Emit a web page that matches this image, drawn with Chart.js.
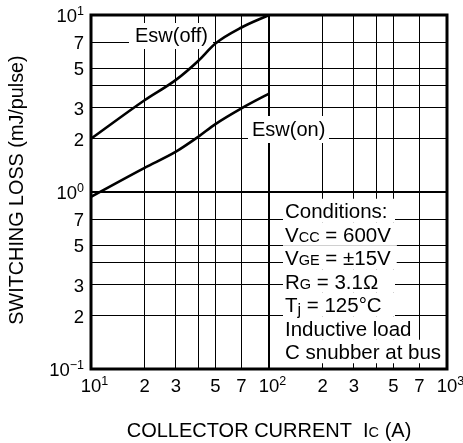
<!DOCTYPE html>
<html>
<head>
<meta charset="utf-8">
<script src="https://cdn.jsdelivr.net/npm/chart.js@4"></script>
<style>
  html, body { margin: 0; padding: 0; background: #fff; }
  #wrap { width: 463px; height: 443px; }
</style>
</head>
<body>
<div id="wrap"><canvas id="lossChart" width="463" height="443"></canvas></div>
<script>
// data
const currentA = [10, 20, 30, 40, 50, 70, 100];
const eswOff = [2.0, 3.3, 4.3, 5.5, 6.9, 8.5, 10];
const eswOn = [0.94, 1.37, 1.69, 2.05, 2.42, 2.97, 3.6];

const xGrid = [10, 20, 30, 40, 50, 70, 100, 200, 300, 400, 500, 700, 1000];
const yGrid = [0.1, 0.2, 0.3, 0.4, 0.5, 0.7, 1, 2, 3, 4, 5, 7, 10];
const xLabels = [[10, '10', '1'], [20, '2'], [30, '3'], [50, '5'], [70, '7'], [100, '10', '2'],
  [200, '2'], [300, '3'], [500, '5'], [700, '7'], [1000, '10', '3']];
const yLabels = [[10, '10', '1'], [7, '7'], [5, '5'], [3, '3'], [2, '2'], [1, '10', '0'],
  [0.7, '7'], [0.5, '5'], [0.3, '3'], [0.2, '2'], [0.1, '10', '\u22121']];

const FONT = '"Liberation Sans", Arial, Helvetica, sans-serif';
const f = (px) => px + 'px ' + FONT;

function pts(ys) { return currentA.map((x, i) => ({ x: x, y: ys[i] })); }

// draw a row of text pieces: [text, size, dy]
function drawRuns(c, runs, x, y) {
  let cx = x;
  runs.forEach(([t, size, dy]) => {
    c.font = f(size);
    c.fillText(t, cx, y + (dy || 0));
    cx += c.measureText(t).width;
  });
  return cx;
}
function runsWidth(c, runs) {
  let w = 0;
  runs.forEach(([t, size]) => { c.font = f(size); w += c.measureText(t).width; });
  return w;
}

const decorPlugin = {
  id: 'decor',
  beforeDatasetsDraw(chart) {
    const c = chart.ctx;
    c.save();
    c.fillStyle = '#fff';
    // label boxes hide the grid
    c.fillRect(129, 23, 84, 26);
    c.fillRect(248, 116, 81, 27);
    c.fillStyle = '#000';
    c.textBaseline = 'middle';
    c.textAlign = 'left';
    c.font = f(20);
    c.fillText('Esw(off)', 135, 36);
    c.fillText('Esw(on)', 252, 130);

    // conditions block
    const big = 20.5, small = 14.5;
    const lines = [
      [['Conditions:', big]],
      [['V', big], ['CC', small], [' = 600V', big]],
      [['V', big], ['GE', small], [' = \u00b115V', big]],
      [['R', big], ['G', small], [' = 3.1\u03a9', big]],
      [['T', big], ['j', 16, 3], [' = 125\u00b0C', big]],
      [['Inductive load', big]],
      [['C snubber at bus', big]]
    ];
    const x0 = 285, y0 = 210.5, step = 23.5;
    c.textBaseline = 'alphabetic';
    lines.forEach((runs, i) => {
      const yc = y0 + i * step;
      const w = runsWidth(c, runs);
      c.fillStyle = '#fff';
      c.fillRect(x0 - 2, yc - step / 2, Math.max(w + 8, 112), step);
    });
    c.fillStyle = '#000';
    lines.forEach((runs, i) => {
      drawRuns(c, runs, x0, y0 + i * step + 7.5);
    });
    c.restore();
  },
  afterDraw(chart) {
    const c = chart.ctx;
    const a = chart.chartArea;
    const xs = chart.scales.x, ys = chart.scales.y;
    c.save();
    c.strokeStyle = '#000';
    c.lineWidth = 3;
    c.strokeRect(a.left, a.top, a.right - a.left, a.bottom - a.top);

    c.fillStyle = '#000';
    c.textBaseline = 'alphabetic';
    // y tick labels, right aligned
    yLabels.forEach(([v, base, exp]) => {
      const py = ys.getPixelForValue(v);
      const runs = exp ? [[base, 18.5], [exp, 12.5, -7]] : [[base, 18.5]];
      const w = runsWidth(c, runs);
      drawRuns(c, runs, 84 - w, py + 7);
    });
    // x tick labels, base centred on the tick
    xLabels.forEach(([v, base, exp]) => {
      const px = xs.getPixelForValue(v);
      c.font = f(18.5);
      const bw = c.measureText(base).width;
      const runs = exp ? [[base, 18.5], [exp, 12.5, -7]] : [[base, 18.5]];
      drawRuns(c, runs, px - bw / 2, 392);
    });

    // axis titles
    const xt = [['COLLECTOR CURRENT  I', 20], ['C', 14.5], [' (A)', 20]];
    const xw = runsWidth(c, xt);
    drawRuns(c, xt, 269 - xw / 2, 437);

    c.translate(23, 190);
    c.rotate(-Math.PI / 2);
    c.font = f(19.8);
    c.textAlign = 'center';
    c.fillText('SWITCHING LOSS (mJ/pulse)', 0, 0);
    c.restore();
  }
};

const gridWidth = (v, major) => (v === major ? 2 : 1);

new Chart(document.getElementById('lossChart'), {
  type: 'line',
  data: {
    datasets: [
      { label: 'Esw(off)', data: pts(eswOff) },
      { label: 'Esw(on)', data: pts(eswOn) }
    ]
  },
  options: {
    responsive: false,
    animation: false,
    devicePixelRatio: 1,
    layout: { padding: { top: 15, right: 16, left: 0, bottom: 0 } },
    elements: {
      line: { borderColor: '#000', borderWidth: 2.6, cubicInterpolationMode: 'monotone', fill: false },
      point: { radius: 0 }
    },
    plugins: { legend: { display: false }, tooltip: { enabled: false } },
    scales: {
      x: {
        type: 'logarithmic', min: 10, max: 1000,
        afterBuildTicks: (s) => { s.ticks = xGrid.map(v => ({ value: v })); },
        afterFit: (s) => { s.height = 74; },
        ticks: { display: false },
        border: { display: false },
        grid: { color: '#000', drawTicks: false, lineWidth: (ctx) => gridWidth(ctx.tick && ctx.tick.value, 100) }
      },
      y: {
        type: 'logarithmic', min: 0.1, max: 10,
        afterBuildTicks: (s) => { s.ticks = yGrid.map(v => ({ value: v })); },
        afterFit: (s) => { s.width = 91; },
        ticks: { display: false },
        border: { display: false },
        grid: { color: '#000', drawTicks: false, lineWidth: (ctx) => gridWidth(ctx.tick && ctx.tick.value, 1) }
      }
    }
  },
  plugins: [decorPlugin]
});
</script>
</body>
</html>
